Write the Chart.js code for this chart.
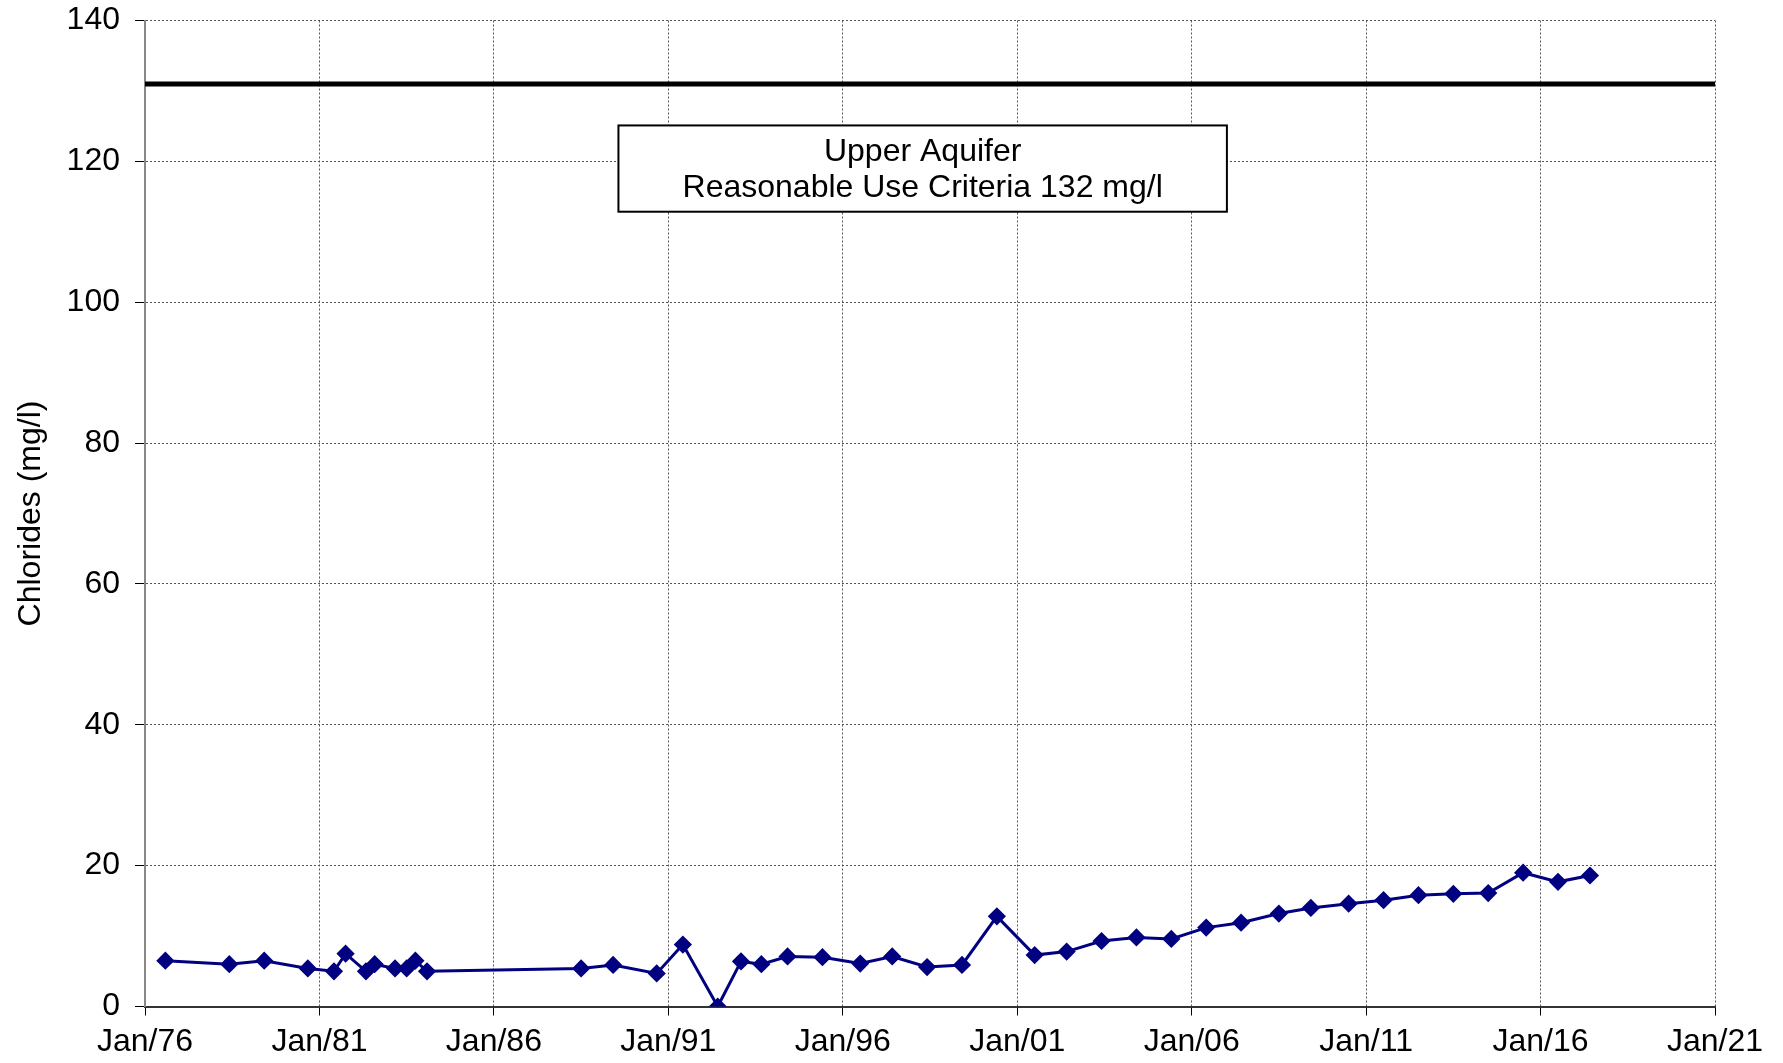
<!DOCTYPE html>
<html>
<head>
<meta charset="utf-8">
<script src="https://cdn.jsdelivr.net/npm/chart.js@4/dist/chart.umd.min.js"></script>
<style>
  html, body { margin: 0; padding: 0; background: #fff; }
  #wrap { width: 1783px; height: 1063px; position: relative; }
</style>
</head>
<body>
<div id="wrap"><canvas id="chart"></canvas></div>
<script>
// sample dates (year-month) and chloride results, mg/l
const sampleDates = [
  '1976-08', '1978-06', '1979-06', '1980-09', '1981-06', '1981-10', '1982-05', '1982-08',
  '1983-03', '1983-07', '1983-10', '1984-02', '1988-07', '1989-06', '1990-09', '1991-06',
  '1992-06', '1993-02', '1993-09', '1994-06', '1995-06', '1996-07', '1997-06', '1998-06',
  '1999-06', '2000-06', '2001-07', '2002-06', '2003-06', '2004-06', '2005-06', '2006-06',
  '2007-06', '2008-07', '2009-06', '2010-07', '2011-07', '2012-07', '2013-07', '2014-07',
  '2015-07', '2016-07', '2017-06'
];
const chlorides = [
  6.5, 6.0, 6.5, 5.4, 5.0, 7.5, 5.0, 6.0,
  5.4, 5.4, 6.5, 5.0, 5.4, 5.9, 4.7, 8.8,
  0.0, 6.4, 6.0, 7.1, 7.0, 6.1, 7.1, 5.6,
  5.9, 12.8, 7.3, 7.8, 9.3, 9.8, 9.6, 11.2,
  11.9, 13.2, 14.0, 14.6, 15.1, 15.8, 16.0, 16.1,
  19.0, 17.7, 18.6
];

// criteria line as drawn, and the axis ranges
const criteriaLevel = 131;
const criteriaYears = [1976, 2021];
const yearTicks = [1976, 1981, 1986, 1991, 1996, 2001, 2006, 2011, 2016, 2021];
const yTicks = [0, 20, 40, 60, 80, 100, 120, 140];
const noteLines = ['Upper Aquifer', 'Reasonable Use Criteria 132 mg/l'];

function toYear(s) {
  const [y, m] = s.split('-').map(Number);
  return y + (m - 1) / 12;
}

const points = sampleDates.map((d, i) => ({ x: toYear(d), y: chlorides[i] }));
const criteriaPts = criteriaYears.map(x => ({ x: x, y: criteriaLevel }));

const FONT = 'Arial, "Liberation Sans", sans-serif';

// note box, placed in data units
const notePlugin = {
  id: 'note',
  afterDatasetsDraw(chart) {
    const xs = chart.scales.x, ys = chart.scales.y, ctx = chart.ctx;
    const x1 = xs.getPixelForValue(1989.57), x2 = xs.getPixelForValue(2007.01);
    const y1 = ys.getPixelForValue(125.1), y2 = ys.getPixelForValue(112.85);
    ctx.save();
    ctx.fillStyle = '#fff';
    ctx.fillRect(x1, y1, x2 - x1, y2 - y1);
    ctx.strokeStyle = '#000';
    ctx.lineWidth = 2;
    ctx.strokeRect(x1, y1, x2 - x1, y2 - y1);
    ctx.fillStyle = '#000';
    ctx.font = '32px ' + FONT;
    ctx.textAlign = 'center';
    ctx.textBaseline = 'middle';
    const cx = (x1 + x2) / 2, cy = (y1 + y2) / 2 + 2;
    ctx.fillText(noteLines[0], cx, cy - 18);
    ctx.fillText(noteLines[1], cx, cy + 18);
    ctx.restore();
  }
};

new Chart(document.getElementById('chart'), {
  type: 'scatter',
  data: {
    datasets: [
      {
        data: criteriaPts,
        showLine: true,
        borderColor: '#000',
        borderWidth: 5,
        pointRadius: 0,
        pointHoverRadius: 0
      },
      {
        data: points,
        showLine: true,
        borderColor: '#000080',
        backgroundColor: '#000080',
        borderWidth: 3,
        pointStyle: 'rectRot',
        pointRadius: 7,
        pointHoverRadius: 7
      }
    ]
  },
  options: {
    responsive: true,
    maintainAspectRatio: false,
    animation: false,
    layout: { padding: { left: 0, right: 68, top: 20.5, bottom: 0 } },
    plugins: { legend: { display: false }, tooltip: { enabled: false } },
    scales: {
      x: {
        type: 'linear',
        min: 1976,
        max: 2021,
        afterBuildTicks: s => { s.ticks = yearTicks.map(v => ({ value: v })); },
        afterFit: s => { s.height = 56.5; },
        ticks: {
          color: '#000',
          font: { family: FONT, size: 32 },
          padding: 7,
          maxRotation: 0,
          callback: v => 'Jan/' + String(v).slice(2)
        },
        grid: {
          color: '#555',
          lineWidth: 1,
          tickLength: 9,
          tickColor: '#000',
          tickBorderDash: []
        },
        border: { color: '#333', width: 2, dash: [2, 2] }
      },
      y: {
        min: 0,
        max: 140,
        afterBuildTicks: s => { s.ticks = yTicks.map(v => ({ value: v })); },
        afterFit: s => { s.width = 145; s.paddingTop = 0; s.paddingBottom = 0; },
        ticks: {
          color: '#000',
          font: { family: FONT, size: 32 },
          padding: 15
        },
        grid: {
          color: '#555',
          lineWidth: 1,
          tickLength: 10,
          tickColor: '#000',
          tickBorderDash: []
        },
        border: { color: '#888', width: 2, dash: [2, 2] },
        title: {
          display: true,
          text: 'Chlorides (mg/l)',
          color: '#000',
          font: { family: FONT, size: 32 },
          padding: { top: 12, bottom: 0 }
        }
      }
    }
  },
  plugins: [notePlugin]
});
</script>
</body>
</html>
